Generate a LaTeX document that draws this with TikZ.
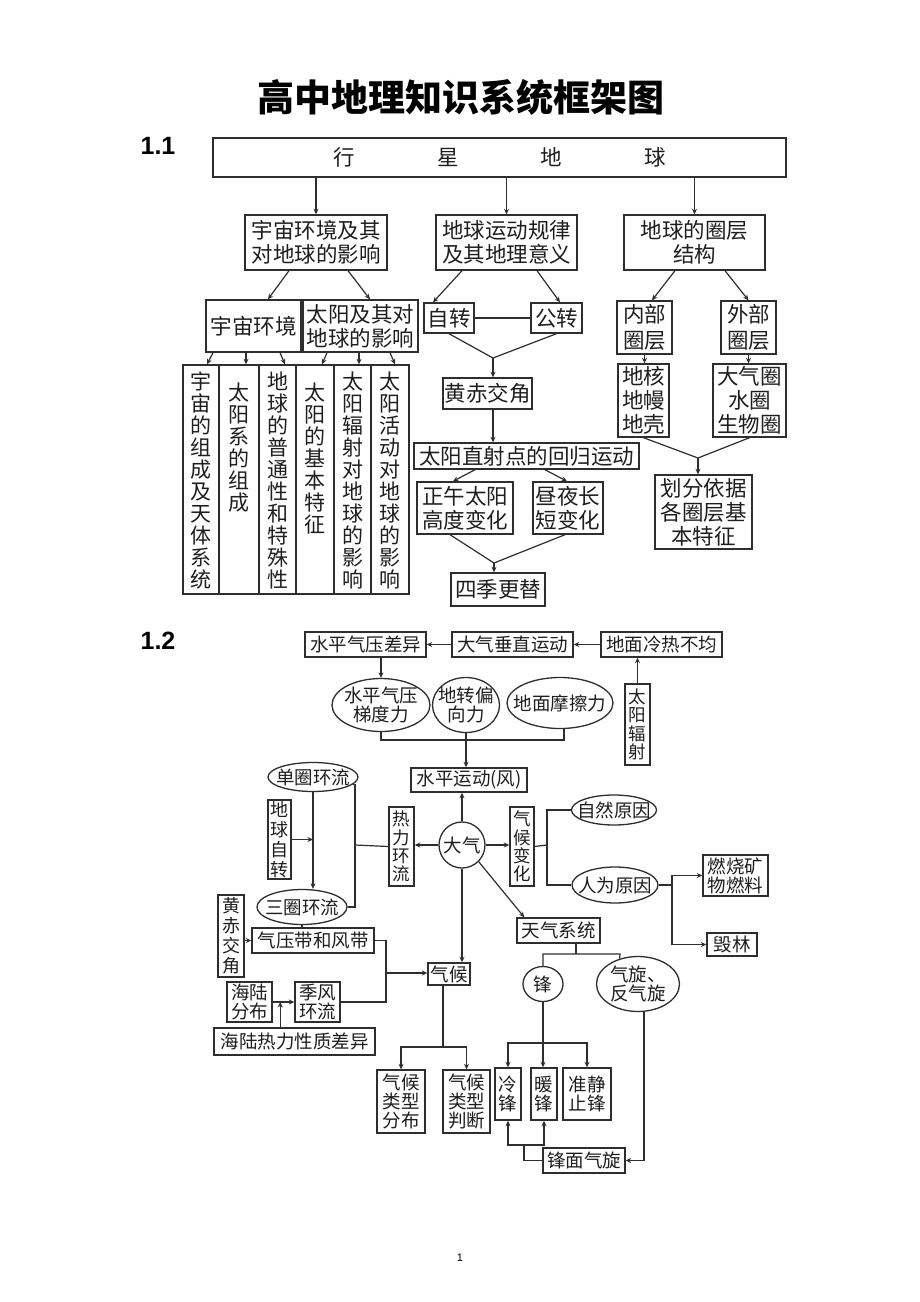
\documentclass[tikz,border=0pt]{standalone}
\usepackage{fontspec}
\setmainfont{Noto Sans CJK SC}
\newfontfamily\latinfont{Liberation Sans}
\usetikzlibrary{shapes.geometric,arrows.meta,calc}
\definecolor{ln}{HTML}{2E2E2E}
\definecolor{tx}{HTML}{1E1E1E}
\tikzset{
  box/.style={draw=ln, line width=1.4pt, inner sep=0pt, align=center, text=tx},
  ell/.style={draw=ln, line width=1.3pt, ellipse, inner sep=0pt},
  lab/.style={inner sep=0pt, align=center, text=tx},
  arr/.style={draw=ln, line width=1.2pt, -{Stealth[length=5.5pt,width=5pt]}},
  con/.style={draw=ln, line width=1.2pt},
  fa/.style={font=\fontsize{21.5}{24}\selectfont},
  faw/.style={font=\fontsize{21.5}{26.5}\selectfont},
  fc/.style={font=\fontsize{21}{22}\selectfont, inner sep=0pt, align=center, text=tx},
  fb/.style={font=\fontsize{18.5}{19}\selectfont},
  fv/.style={font=\fontsize{17.5}{18.3}\selectfont},
  fw/.style={font=\fontsize{18}{20}\selectfont},
}
\newcommand\bx[7][]{\node[box,#1,minimum width={(#5-#3)*1pt},minimum height={(#6-#4)*1pt}] (#2) at ({(#3+#5)/2},{(#4+#6)/2}) {#7};}
\newcommand\colbox[5]{\node[box,minimum width={(#3-#2)*1pt},minimum height=229,label={[fc,anchor=north,yshift=-#4pt]north:#5}] (#1) at ({(#2+#3)/2},479.5) {};}
\begin{document}
\begin{tikzpicture}[x=1pt,y=-1pt]
\useasboundingbox (0,0) rectangle (920,1302);
\fill[white] (0,0) rectangle (920,1302);

% ---------- title and labels ----------
\node[font=\fontsize{37}{40}\selectfont\bfseries] (title) at (461,97) {高中地理知识系统框架图};
\node[font=\latinfont\bfseries\fontsize{25}{28}\selectfont] (s11) at (158,146) {1.1};
\node[font=\latinfont\bfseries\fontsize{25}{28}\selectfont] (s12) at (158,641) {1.2};
\node[font=\latinfont\fontsize{11}{12}\selectfont] (pg) at (460,1258) {1};

% ---------- 1.1 ----------
\bx[fa]{top}{213}{138}{786}{177}{行\hspace{82pt}星\hspace{82pt}地\hspace{82pt}球}
\bx[fa]{a1}{245}{215}{387}{270}{宇宙环境及其\\对地球的影响}
\bx[fa]{a2}{436}{215}{577}{270}{地球运动规律\\及其地理意义}
\bx[fa]{a3}{624}{215}{765}{270}{地球的圈层\\结构}
\bx[fa]{b1}{206}{300}{301}{352}{宇宙环境}
\bx[fa]{b2}{303}{300}{418}{352}{太阳及其对\\地球的影响}
\bx[fa]{c1}{424}{303}{474}{333}{自转}
\bx[fa]{c2}{531}{303}{582}{333}{公转}
\bx[fa]{d1}{443}{378}{532}{409}{黄赤交角}
\bx[fa]{d2}{414}{443}{639}{469}{太阳直射点的回归运动}
\bx[fa]{e1}{417}{482}{513}{534}{正午太阳\\高度变化}
\bx[fa]{e2}{533}{482}{603}{534}{昼夜长\\短变化}
\bx[fa]{f1}{451}{573}{545}{606}{四季更替}
\bx[faw]{g1}{617}{301}{672}{354}{内部\\圈层}
\bx[faw]{g2}{721}{301}{776}{354}{外部\\圈层}
\bx[fa]{h1}{618}{364}{669}{437}{地核\\地幔\\地壳}
\bx[fa]{h2}{713}{364}{786}{437}{大气圈\\水圈\\生物圈}
\bx[fa]{i1}{655}{475}{752}{549}{划分依据\\各圈层基\\本特征}

\colbox{k1}{183}{219}{7}{宇\\宙\\的\\组\\成\\及\\天\\体\\系\\统}
\colbox{k2}{219}{259}{18}{太\\阳\\系\\的\\组\\成}
\colbox{k3}{259}{296}{7}{地\\球\\的\\普\\通\\性\\和\\特\\殊\\性}
\colbox{k4}{296}{334}{18}{太\\阳\\的\\基\\本\\特\\征}
\colbox{k5}{334}{371}{7}{太\\阳\\辐\\射\\对\\地\\球\\的\\影\\响}
\colbox{k6}{371}{409}{7}{太\\阳\\活\\动\\对\\地\\球\\的\\影\\响}

\draw[arr] (top.south -| a1.north) -- (a1.north);
\draw[arr] (top.south -| a2.north) -- (a2.north);
\draw[arr] (top.south -| a3.north) -- (a3.north);
\draw[arr] ($(a1.south)+(-27,0)$) -- ($(b1.north)+(14.5,0)$);
\draw[arr] ($(a1.south)+(32,0)$) -- ($(b2.north)+(9.5,0)$);
\draw[arr] ($(a2.south)+(-44.5,0)$) -- ($(c1.north)+(-16,0)$);
\draw[arr] ($(a2.south)+(30.5,0)$) -- ($(c2.north)+(3.5,0)$);
\draw[con] (c1.east) -- (c2.west);
\coordinate (m1) at (493,358);
\draw[con] (c1.south) -- (m1) -- (c2.south);
\draw[arr] (m1) -- (m1 |- d1.north);
\draw[arr] (m1 |- d1.south) -- (m1 |- d2.north);
\draw[arr] ($(d2.south)+(-51.5,0)$) -- ($(e1.north)+(-12,0)$);
\draw[arr] ($(d2.south)+(18.5,0)$) -- ($(e2.north)+(-1,0)$);
\coordinate (m2) at (494,563);
\draw[con] ($(e1.south)+(-15,0)$) -- (m2) -- ($(e2.south)+(-3,0)$);
\draw[arr] (m2) -- (m2 |- f1.north);
\draw[arr] ($(a3.south)+(-19.5,0)$) -- ($(g1.north)+(7.5,0)$);
\draw[arr] ($(a3.south)+(30.5,0)$) -- (g2.north);
\draw[arr] (g1.south) -- (g1.south |- h1.north);
\draw[arr] (g2.south) -- (g2.south |- h2.north);
\coordinate (m3) at (698,458);
\draw[con] (h1.south) -- (m3) -- (h2.south);
\draw[arr] (m3) -- (m3 |- i1.north);
\draw[arr] ($(b1.south)+(-40.5,0)$) -- ($(k1.north)+(6,0)$);
\draw[arr] ($(b1.south)+(-7.5,0)$) -- ($(k2.north)+(7,0)$);
\draw[arr] ($(b1.south)+(26.5,0)$) -- ($(k3.north)+(7.5,0)$);
\draw[arr] ($(b2.south)+(-33.5,0)$) -- ($(k4.north)+(7,0)$);
\draw[arr] ($(b2.south)+(-1.5,0)$) -- ($(k5.north)+(6.5,0)$);
\draw[arr] ($(b2.south)+(29.5,0)$) -- ($(k6.north)+(5,0)$);

% ---------- 1.2 ----------
\bx[fb]{p1}{305}{632}{426}{657}{水平气压差异}
\bx[fb]{p2}{452}{632}{573}{657}{大气垂直运动}
\bx[fb]{p3}{601}{632}{722}{657}{地面冷热不均}
\bx[fv]{p4}{625}{684}{650}{765}{太\\阳\\辐\\射}
\node[ell, minimum width=98, minimum height=53, label={[lab,fb]center:水平气压\\梯度力}] (q1) at (381,705) {};
\node[ell, minimum width=67, minimum height=55, label={[lab,fb]center:地转偏\\向力}] (q2) at (466,705) {};
\node[ell, minimum width=106, minimum height=51, label={[lab,fb]center:地面摩擦力}] (q3) at (560,703) {};
\bx[fb]{r1}{411}{768}{527}{792}{水平运动(风)}
\node[draw=ln, line width=1.3pt, circle, inner sep=0pt, minimum size=46, label={[lab,fb]center:大气}] (r0) at (462,845) {};
\bx[fv]{r2}{389}{807}{414}{886}{热\\力\\环\\流}
\bx[fv]{r3}{510}{807}{534}{886}{气\\候\\变\\化}
\bx[fb]{r4}{517}{918}{600}{943}{天气系统}
\bx[fb]{r5}{428}{963}{470}{985}{气候}
\node[ell, minimum width=85, minimum height=30, label={[lab,fb]center:自然原因}] (s1) at (614,810) {};
\node[ell, minimum width=86, minimum height=36, label={[lab,fb]center:人为原因}] (s2) at (615,885) {};
\bx[fb]{s3}{703}{855}{768}{896}{燃烧矿\\物燃料}
\bx[fb]{s4}{707}{933}{757}{956}{毁林}
\node[ell, minimum width=40, minimum height=35, label={[lab,fb]center:锋}] (t1) at (543,984) {};
\node[ell, minimum width=83, minimum height=55, label={[lab,fb]center:气旋、\\反气旋}] (t2) at (638,984) {};
\bx[fb]{u1}{495}{1068}{521}{1120}{冷\\锋}
\bx[fb]{u2}{531}{1068}{557}{1120}{暖\\锋}
\bx[fb]{u3}{563}{1068}{611}{1120}{准静\\止锋}
\bx[fb]{u4}{543}{1148}{625}{1173}{锋面气旋}
\bx[fb]{v1}{377}{1070}{425}{1133}{气候\\类型\\分布}
\bx[fb]{v2}{443}{1070}{490}{1133}{气候\\类型\\判断}
\node[ell, minimum width=90, minimum height=29, label={[lab,fb]center:单圈环流}] (w1) at (313,777) {};
\bx[fw]{w2}{268}{800}{291}{879}{地\\球\\自\\转}
\node[ell, minimum width=90, minimum height=35, label={[lab,fb]center:三圈环流}] (w3) at (302,907) {};
\bx[fb]{w4}{252}{928}{374}{953}{气压带和风带}
\bx[fw]{w5}{218}{895}{244}{977}{黄\\赤\\交\\角}
\bx[fb]{w6}{227}{982}{272}{1022}{海陆\\分布}
\bx[fb]{w7}{295}{982}{340}{1022}{季风\\环流}
\bx[fb]{w8}{214}{1028}{375}{1055}{海陆热力性质差异}

\draw[arr] (p2.west) -- (p1.east);
\draw[arr] (p3.west) -- (p2.east);
\draw[arr] (p4.north) -- (p4.north |- p3.south);
\draw[arr] (q1.north |- p1.south) -- (q1.north);
\coordinate (j1) at (466,740);
\draw[con] (q1.south) |- (j1) -| ($(q3.south)+(4,0)$);
\draw[arr] (q2.south) -- (q2.south |- r1.north);
\draw[arr] (r0.north) -- (r0.north |- r1.south);
\draw[arr] (r0.west) -- (r0.west -| r2.east);
\draw[arr] (r0.east) -- (r0.east -| r3.west);
\draw[arr] (r0.-45) -- ($(r4.north west)+(8,0)$);
\draw[arr] (r0.south) -- (r0.south |- r5.north);
\coordinate (j2) at (547,845);
\draw[con] (r3.east) -- (j2);
\draw[con] (s1.west) -| (j2) |- (s2.west);
\coordinate (j3) at (672,885);
\draw[con] (s2.east) -- (j3);
\draw[arr] (j3) |- (s3.west);
\draw[arr] (j3) |- (s4.west);
\coordinate (j4) at (576,954);
\draw[con] (r4.south -| j4) -- (j4);
\coordinate (j5) at (620,954);
\draw[con] (t1.north) |- (j5) -- (t2.126);
\coordinate (j6) at (543,1043);
\draw[arr] (t1.south) -- (t1.south |- u2.north);
\draw[arr] (j6) -| (u1.north);
\draw[arr] (j6) -| (u3.north);
\draw[arr] ($(t2.south)+(6,0)$) |- (u4.east);
\coordinate (j7) at (524,1145);
\draw[con] (u4.west) -| (j7);
\draw[arr] (j7) -| (u1.south);
\draw[arr] (j7) -| (u2.south);
\coordinate (j8) at (443,1047);
\draw[con] (r5.south -| j8) -- (j8);
\draw[arr] (j8) -| (v1.north);
\draw[arr] (j8) -| (v2.north);
\draw[arr] (w1.south) -- (w1.south |- w3.north);
\draw[arr] (w2.east) -- (w2.east -| w1.south);
\coordinate (j9) at (355,845);
\draw[con] (w1.-10) -| (j9) |- (w3.east);
\draw[con] (r2.west) -- (j9);
\draw[con] (w3.south) -- (w3.south |- w4.north);
\draw[arr] (w4.west -| w5.east) -- (w4.west);
\draw[arr] (w6.east) -- (w7.west);
\coordinate (c8) at ($(w6.east)!0.35!(w7.west)$);
\draw[arr] (w8.north -| c8) -- (c8);
\coordinate (j10) at (386,973);
\draw[con] (w4.east) -| (j10);
\draw[con] (w7.east) -| (j10);
\draw[arr] (j10) -- (j10 -| r5.west);
\end{tikzpicture}
\end{document}
